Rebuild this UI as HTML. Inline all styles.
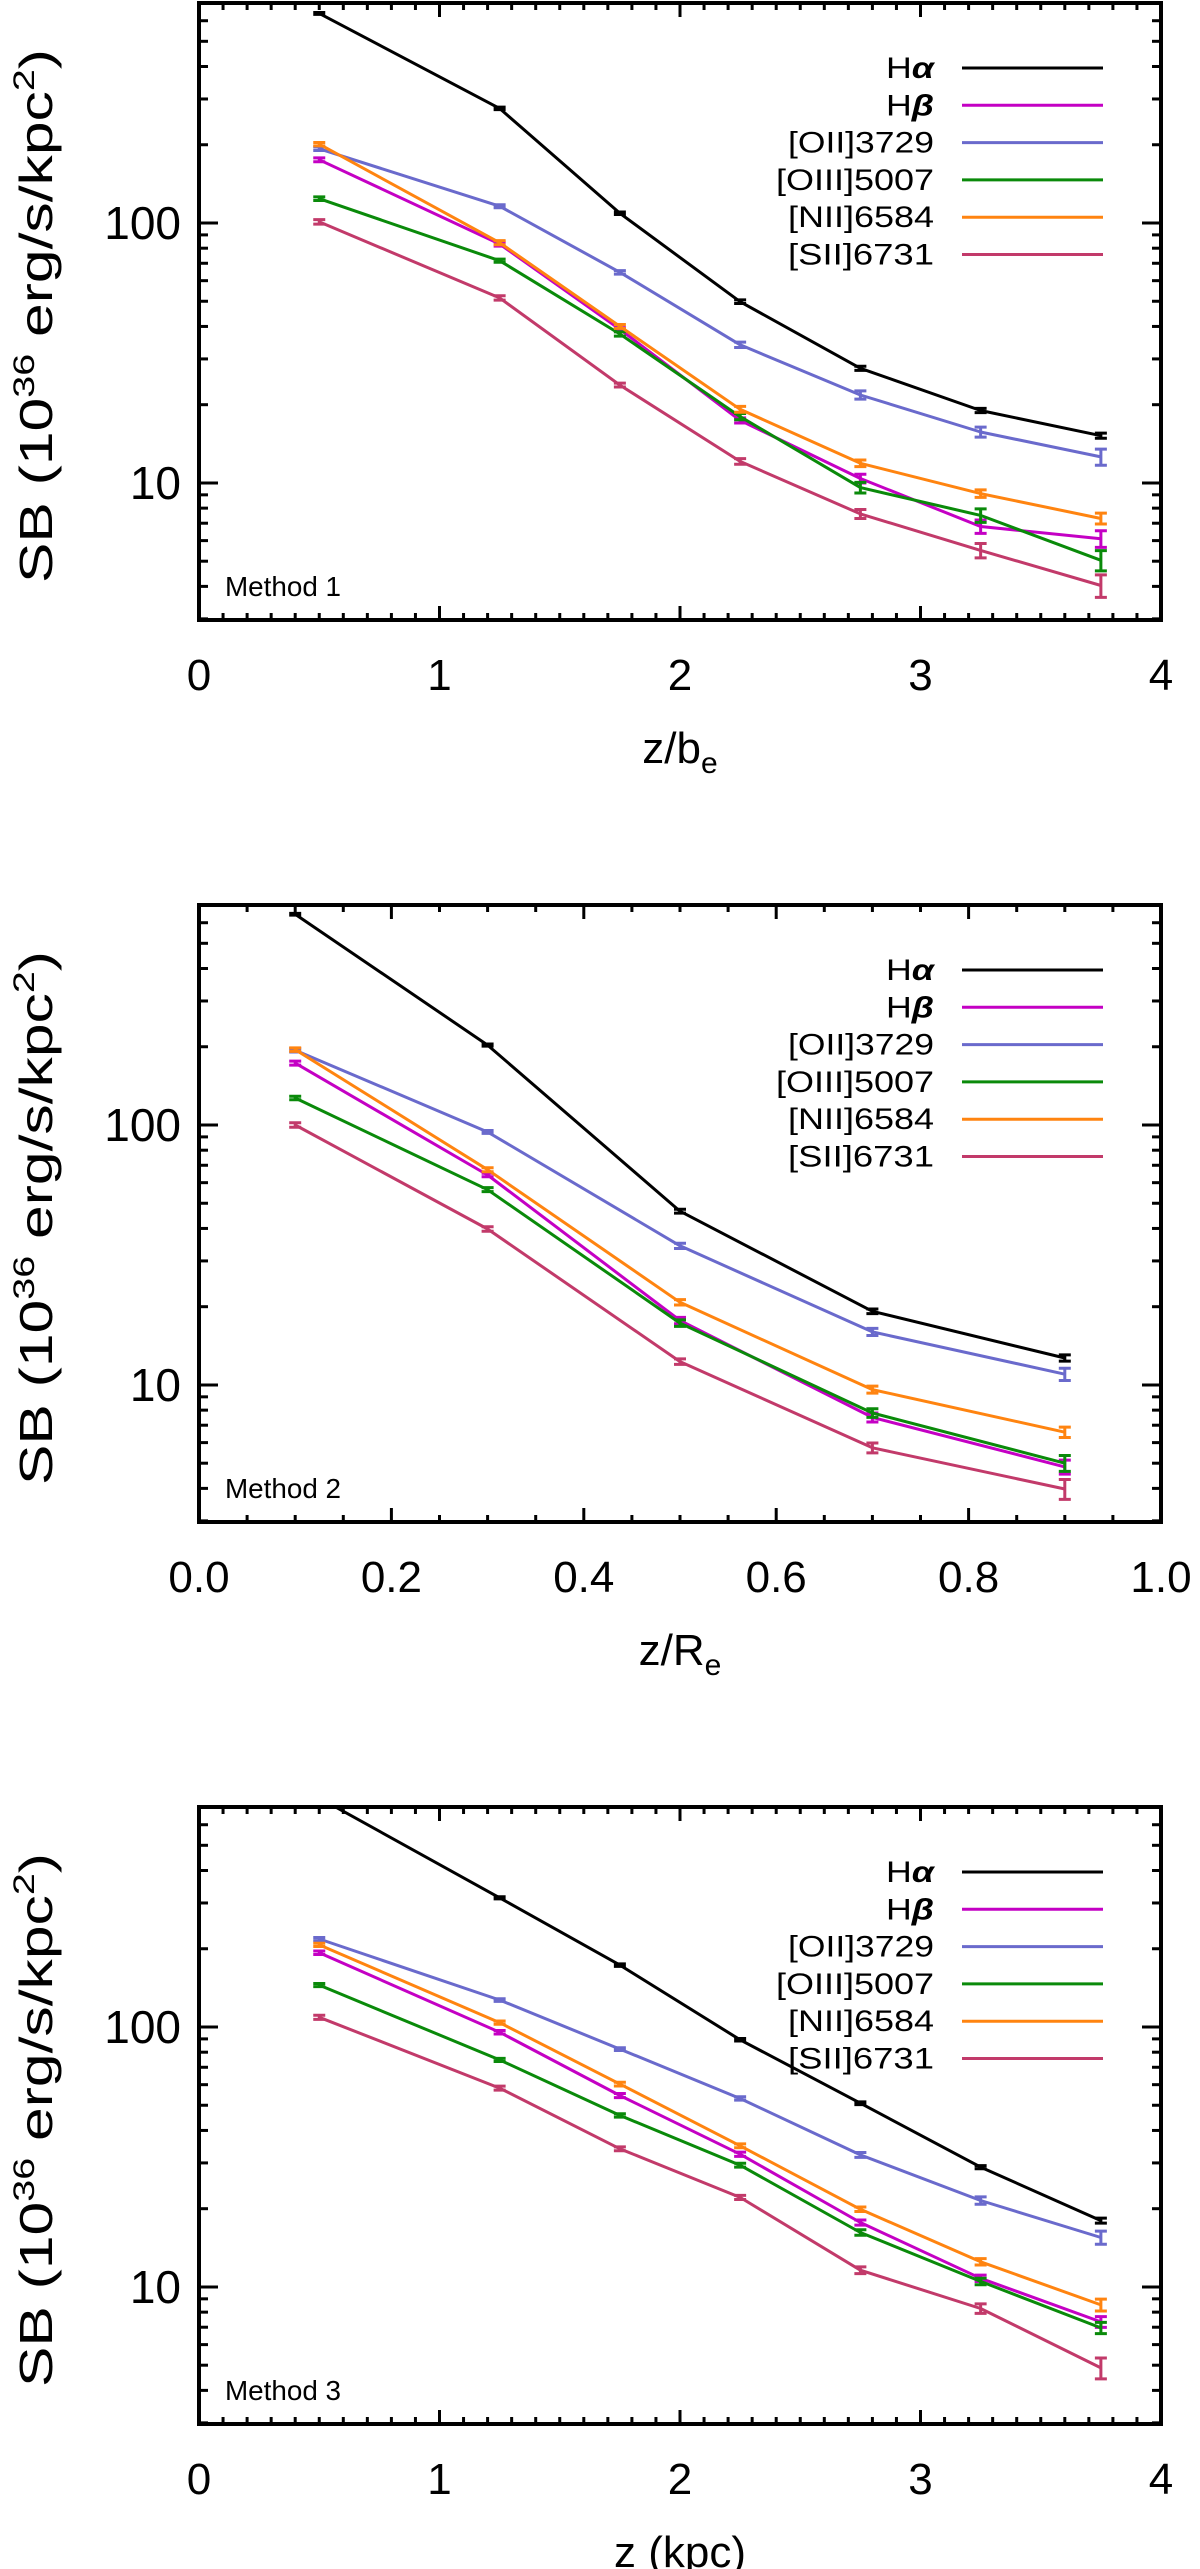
<!DOCTYPE html>
<html><head><meta charset="utf-8"><style>
html,body{margin:0;padding:0;background:#fff;}
svg{display:block;font-family:"Liberation Sans",sans-serif;}
</style></head><body>
<svg id="fig" width="1200" height="2569" viewBox="0 0 1200 2569" xmlns="http://www.w3.org/2000/svg"></svg>
<script>
// ---------- data ----------
const seriesNames = ["Hα","Hβ","[OII]3729","[OIII]5007","[NII]6584","[SII]6731"];
const seriesKeys = ["halpha","hbeta","oii-3729","oiii-5007","nii-6584","sii-6731"];
const seriesColors = ["#000000","#c400c4","#6a6acc","#0a8a0a","#ff8410","#c23a6a"];

// Panel 1 (Method 1): x = z/b_e
const p1X = [0.5,1.25,1.75,2.25,2.75,3.25,3.75];
const p1Ha   = [640,276,109,49.8,27.6,19.0,15.2];
const p1Hb   = [175,83,39,17.4,10.4,6.8,6.1];
const p1OII  = [193,116,64.6,34,21.8,15.7,12.6];
const p1OIII = [124,71.6,37.4,18,9.6,7.5,5.04];
const p1NII  = [201,84,40,19.2,11.9,9.1,7.3];
const p1SII  = [101,51.5,23.8,12.1,7.6,5.5,4.03];
const p1ErrHa   = [5,3,1.2,0.8,0.5,0.35,0.35];
const p1ErrHb   = [3,1.5,0.6,0.4,0.4,0.4,0.45];
const p1ErrOII  = [3,1.5,1,0.8,0.8,0.7,0.9];
const p1ErrOIII = [2,1,0.7,0.5,0.45,0.45,0.45];
const p1ErrNII  = [3,1.5,0.7,0.5,0.35,0.3,0.35];
const p1ErrSII  = [2,1,0.4,0.3,0.3,0.35,0.4];

// Panel 2 (Method 2): x = z/R_e
const p2X = [0.1,0.3,0.5,0.7,0.9];
const p2Ha   = [647,203,46.6,19.2,12.7];
const p2Hb   = [173,64.2,17.7,7.5,4.84];
const p2OII  = [194,94,34.3,16,11.0];
const p2OIII = [127,56.4,17.3,7.8,5.0];
const p2NII  = [195,67.3,20.8,9.6,6.58];
const p2SII  = [100,39.8,12.3,5.73,3.98];
const p2ErrHa   = [5,2,0.8,0.4,0.35];
const p2ErrHb   = [3,1,0.5,0.3,0.3];
const p2ErrOII  = [3,1.2,0.8,0.5,0.6];
const p2ErrOIII = [2,1,0.5,0.3,0.35];
const p2ErrNII  = [3,1.2,0.5,0.3,0.3];
const p2ErrSII  = [2,0.8,0.3,0.25,0.35];

// Panel 3 (Method 3): x = z (kpc)
const p3X = [0.5,1.25,1.75,2.25,2.75,3.25,3.75];
const p3Ha   = [760,314,173,89.3,50.9,28.9,18.0];
const p3Hb   = [193,95.5,54.5,32.4,17.7,10.8,7.34];
const p3OII  = [218,127,82.2,53.1,32.2,21.5,15.5];
const p3OIII = [145,74.7,45.7,29.4,16.2,10.5,6.96];
const p3NII  = [207,104,60.3,34.9,19.9,12.5,8.53];
const p3SII  = [109,58.2,34,22.1,11.6,8.26,4.88];
const p3ErrHa   = [5,3,2,1,0.6,0.4,0.4];
const p3ErrHb   = [3,1.5,1,0.6,0.4,0.3,0.35];
const p3ErrOII  = [3,1.5,1,0.8,0.7,0.7,0.9];
const p3ErrOIII = [2,1,0.7,0.5,0.4,0.3,0.35];
const p3ErrNII  = [3,1.5,1,0.6,0.4,0.35,0.45];
const p3ErrSII  = [2,1,0.6,0.4,0.35,0.35,0.45];

const p1XTicks = ["0","1","2","3","4"];
const p2XTicks = ["0.0","0.2","0.4","0.6","0.8","1.0"];
const p3XTicks = ["0","1","2","3","4"];
const yTickValues = [10,100];
const yTickLabels = ["10","100"];
const methodLabels = ["Method 1","Method 2","Method 3"];

// ---------- drawing ----------
const NS = "http://www.w3.org/2000/svg";
const svg = document.getElementById("fig");
function mk(tag, attrs, parent){
  const e = document.createElementNS(NS, tag);
  for (const k in attrs) e.setAttribute(k, attrs[k]);
  (parent||svg).appendChild(e);
  return e;
}
const X0 = 199, X1 = 1161, YT = 3, YB = 620;
const YMIN = 2.97, YMAX = 702;

function panel(idx, off, xmin, xmax, xTickLabels, xMinorStep, xs, ys, errs, xTitleParts){
  const g = mk("g", {});
  
  
  const xOf = v => X0 + (v - xmin) / (xmax - xmin) * (X1 - X0);
  const yOf = v => off + YB - (Math.log10(v) - Math.log10(YMIN)) / (Math.log10(YMAX) - Math.log10(YMIN)) * (YB - YT);

  const clipId = "clip" + idx;
  const cp = mk("clipPath", {id: clipId}, g);
  mk("rect", {x: X0, y: off+YT, width: X1-X0, height: YB-YT}, cp);

  // frame
  const frame = mk("rect", {x: X0, y: off+YT, width: X1-X0, height: YB-YT, fill: "none", stroke: "#000", "stroke-width": 4}, g);
  
  

  // x ticks
  const xt = mk("g", {stroke: "#000", "stroke-width": 3}, g);
  
  
  const nMajor = xTickLabels.length - 1;
  const majorStep = (xmax - xmin) / nMajor;
  const nMinor = Math.round((xmax - xmin) / xMinorStep);
  for (let i = 1; i < nMinor; i++){
    const v = xmin + i * xMinorStep;
    const isMajor = Math.abs(v / majorStep - Math.round(v / majorStep)) < 1e-6;
    const L = isMajor ? 14 : 7;
    const x = xOf(v);
    mk("line", {x1: x, x2: x, y1: off+YB, y2: off+YB-L}, xt);
    mk("line", {x1: x, x2: x, y1: off+YT, y2: off+YT+L}, xt);
  }
  xTickLabels.forEach((lab, i) => {
    const t = mk("text", {x: xOf(xmin + i*majorStep), y: off+690, "font-size": 44, "text-anchor": "middle", fill: "#000"}, g);
    
    
    t.textContent = lab;
  });

  // y ticks (log)
  const yt = mk("g", {stroke: "#000", "stroke-width": 3}, g);
  
  
  for (let d = 1; d <= 100; d *= 10){
    for (let m = 1; m <= 9; m++){
      const v = m * d;
      if (v < YMIN || v > YMAX) continue;
      const L = m === 1 ? 19 : 9;
      const y = yOf(v);
      mk("line", {x1: X0, x2: X0+L, y1: y, y2: y}, yt);
      mk("line", {x1: X1, x2: X1-L, y1: y, y2: y}, yt);
    }
  }
  yTickValues.forEach((v, i) => {
    const t = mk("text", {x: 181, y: yOf(v)+16, "font-size": 46, "text-anchor": "end", fill: "#000"}, g);
    
    
    t.textContent = yTickLabels[i];
  });

  // y-axis title
  const yTitle = mk("text", {transform: "translate(52," + (off+316) + ") rotate(-90)", "font-size": 46, "text-anchor": "middle", fill: "#000", textLength: 534, lengthAdjust: "spacingAndGlyphs"}, g);
  
  
  yTitle.innerHTML = 'SB (10<tspan dy="-18" font-size="30">36</tspan><tspan dy="18"> erg/s/kpc</tspan><tspan dy="-18" font-size="30">2</tspan><tspan dy="18">)</tspan>';

  // x-axis title
  const xTitle = mk("text", {x: 680, y: off+763, "font-size": 44, "text-anchor": "middle", fill: "#000"}, g);
  
  
  xTitle.innerHTML = xTitleParts;

  // method label
  const ml = mk("text", {x: 225, y: off+596, "font-size": 28, fill: "#000", textLength: 116, lengthAdjust: "spacingAndGlyphs"}, g);
  
  
  ml.textContent = methodLabels[idx];

  // series
  const dg = mk("g", {"clip-path": "url(#" + clipId + ")"}, g);
  ys.forEach((vals, s) => {
    const sg = mk("g", {stroke: seriesColors[s], fill: "none", "stroke-width": 3}, dg);
    
    
    const pts = vals.map((v, i) => xOf(xs[i]).toFixed(1) + "," + yOf(v).toFixed(1)).join(" ");
    const pl = mk("polyline", {points: pts, "stroke-linejoin": "round"}, sg);
    
    
    vals.forEach((v, i) => {
      const x = xOf(xs[i]);
      const e = errs[s][i];
      const yh = yOf(v + e), yl = yOf(Math.max(v - e, 0.01));
      const eb = mk("path", {d: "M" + x + "," + yh + "V" + yl + "M" + (x-6) + "," + yh + "H" + (x+6) + "M" + (x-6) + "," + yl + "H" + (x+6)}, sg);
      
      
    });
  });

  // legend
  const lg = mk("g", {}, g);
  
  
  const legW = [48, 48, 146, 158, 146, 146];
  seriesNames.forEach((nm, s) => {
    const y = off + 68 + s * 37.3;
    const eg = mk("g", {}, lg);
    
    
    const t = mk("text", {x: 934, y: y + 10, "font-size": 30, "text-anchor": "end", fill: "#000", textLength: legW[s], lengthAdjust: "spacingAndGlyphs"}, eg);
    if (s < 2) {
      t.innerHTML = 'H<tspan font-style="italic" font-weight="bold">' + nm.slice(1) + '</tspan>';
    } else {
      t.textContent = nm;
    }
    mk("line", {x1: 962, x2: 1103, y1: y, y2: y, stroke: seriesColors[s], "stroke-width": 3}, eg);
  });
}

panel(0, 0, 0, 4, p1XTicks, 0.1, p1X,
  [p1Ha,p1Hb,p1OII,p1OIII,p1NII,p1SII],
  [p1ErrHa,p1ErrHb,p1ErrOII,p1ErrOIII,p1ErrNII,p1ErrSII],
  'z/b<tspan dy="10" font-size="30">e</tspan>');
panel(1, 902, 0, 1, p2XTicks, 0.05, p2X,
  [p2Ha,p2Hb,p2OII,p2OIII,p2NII,p2SII],
  [p2ErrHa,p2ErrHb,p2ErrOII,p2ErrOIII,p2ErrNII,p2ErrSII],
  'z/R<tspan dy="10" font-size="30">e</tspan>');
panel(2, 1804, 0, 4, p3XTicks, 0.1, p3X,
  [p3Ha,p3Hb,p3OII,p3OIII,p3NII,p3SII],
  [p3ErrHa,p3ErrHb,p3ErrOII,p3ErrOIII,p3ErrNII,p3ErrSII],
  'z (kpc)');
</script>
</body></html>
